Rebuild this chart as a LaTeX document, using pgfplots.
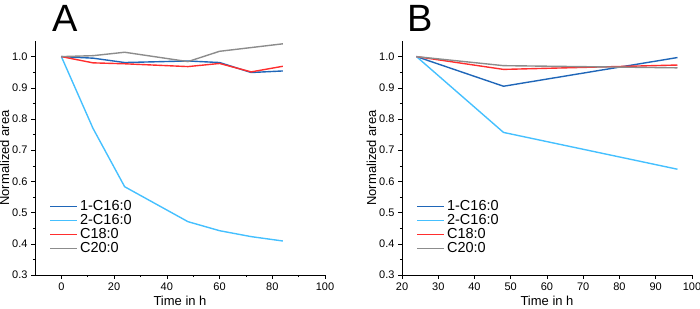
\documentclass[border=0pt]{standalone}
\usepackage{pgfplots}
\pgfplotsset{compat=1.18}
\usepackage{fontspec}
\setmainfont{Liberation Sans}
\definecolor{cdb}{HTML}{1F66B8}
\definecolor{clb}{HTML}{45C0FF}
\definecolor{crd}{HTML}{FF2E2E}
\definecolor{cgy}{HTML}{8C8C8C}
\pgfplotsset{
  myax/.style={
    scale only axis, width=290bp, height=234bp,
    axis x line*=bottom, axis y line*=left,
    tick align=outside,
    major tick length=4bp, minor tick length=2.2bp,
    every tick/.style={black, line width=0.6pt},
    axis line style={line width=0.7pt},
    ymin=0.3, ymax=1.05,
    ytick={0.3,0.4,...,1.0},
    yticklabels={0.3,0.4,0.5,0.6,0.7,0.8,0.9,1.0},
    minor y tick num=1,
    /pgf/number format/assume math mode=true,
    tick label style={font=\fontsize{11bp}{13bp}\selectfont},
    label style={font=\fontsize{13bp}{15bp}\selectfont},
    xlabel={Time in h}, ylabel={Normalized area},
    xlabel style={yshift=1bp},
    ylabel style={yshift=-4bp},
    legend style={draw=none, fill=none, at={(0.04,0.07)}, anchor=south west,
      font=\fontsize{14.5bp}{15bp}\selectfont, row sep=-1.5bp,
      legend cell align=left},
    legend image code/.code={\draw[##1] (0cm,0cm) -- (0.95cm,0cm);},
    every axis plot/.append style={line width=1.4pt, no markers},
  }
}
\begin{document}
\begin{tikzpicture}
\useasboundingbox (-35bp,-34bp) rectangle (665bp,275bp);
\begin{axis}[myax, at={(0,0)}, anchor=south west,
  xmin=-10, xmax=100, xtick={0,20,...,100}, minor x tick num=1]
\addplot[cdb] coordinates {(0,1.0) (12,0.995) (24,0.981) (48,0.986) (60,0.981) (72,0.949) (84,0.954)};
\addplot[clb] coordinates {(0,1.0) (12,0.770) (24,0.583) (48,0.471) (60,0.442) (72,0.423) (84,0.409)};
\addplot[crd] coordinates {(0,1.0) (12,0.980) (24,0.977) (48,0.968) (60,0.978) (72,0.951) (84,0.969)};
\addplot[cgy] coordinates {(0,1.0) (12,1.003) (24,1.014) (48,0.984) (60,1.017) (72,1.029) (84,1.041)};
\legend{1-C16:0,2-C16:0,C18:0,C20:0}
\end{axis}
\begin{axis}[myax, at={(367bp,0)}, anchor=south west,
  xmin=20, xmax=100, xtick={20,30,...,100}]
\addplot[cdb] coordinates {(24,1.0) (48,0.905) (96,0.997)};
\addplot[clb] coordinates {(24,1.0) (48,0.757) (96,0.639)};
\addplot[crd] coordinates {(24,1.0) (48,0.959) (96,0.973)};
\addplot[cgy] coordinates {(24,1.0) (48,0.971) (96,0.964)};
\legend{1-C16:0,2-C16:0,C18:0,C20:0}
\end{axis}
\node[font=\fontsize{38bp}{40bp}\selectfont, inner sep=0pt] at (30bp,257bp) {A};
\node[font=\fontsize{38bp}{40bp}\selectfont, inner sep=0pt] at (385bp,257bp) {B};
\end{tikzpicture}
\end{document}
